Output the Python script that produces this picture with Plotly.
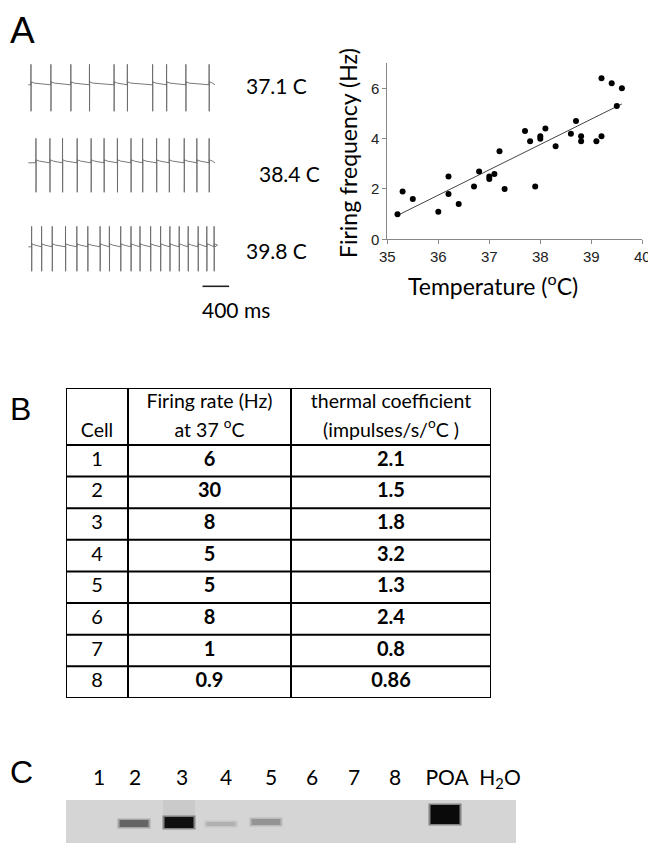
import plotly.graph_objects as go

# ---- panel A: spike trains (spike times in ms)
trace_temps = ["37.1 C", "38.4 C", "39.8 C"]
spikes_371 = [40, 340, 640, 920, 1290, 1490, 1870, 2080, 2370, 2720]
spikes_384 = [115, 325, 515, 735, 945, 1140, 1340, 1545, 1720, 1930, 2120, 2345, 2535, 2720]
spikes_398 = [50, 200, 360, 560, 730, 895, 1080, 1220, 1390, 1545, 1680, 1840, 1990,
              2130, 2270, 2405, 2555, 2685, 2795]
trace_end = 2808
scale_bar_ms = 400

# ---- panel A: firing frequency vs temperature
temp_c = [35.2, 35.3, 35.5, 36.0, 36.2, 36.2, 36.4, 36.7, 36.8, 37.0, 37.0, 37.1, 37.2,
          37.3, 37.7, 37.8, 37.9, 38.0, 38.0, 38.1, 38.3, 38.6, 38.7, 38.8, 38.8, 39.1,
          39.2, 39.2, 39.4, 39.5, 39.6]
freq_hz = [1.0, 1.9, 1.6, 1.1, 2.5, 1.8, 1.4, 2.1, 2.7, 2.5, 2.4, 2.6, 3.5,
           2.0, 4.3, 3.9, 2.1, 4.1, 4.0, 4.4, 3.7, 4.2, 4.7, 4.1, 3.9, 3.9,
           4.1, 6.4, 6.2, 5.3, 6.0]
fit_x = [35.2, 39.6]
fit_y = [0.95, 5.38]

# ---- panel B: table
col_head_1 = ["", "Cell"]
col_head_2 = ["Firing rate (Hz)", "at 37 <sup>o</sup>C"]
col_head_3 = ["thermal coefficient", "(impulses/s/<sup>o</sup>C )"]
cells = ["1", "2", "3", "4", "5", "6", "7", "8"]
firing_rate = ["6", "30", "8", "5", "5", "8", "1", "0.9"]
thermal_coef = ["2.1", "1.5", "1.8", "3.2", "1.3", "2.4", "0.8", "0.86"]

# ---- panel C: gel
lanes = ["1", "2", "3", "4", "5", "6", "7", "8", "POA", "H<sub>2</sub>O"]
lane_pos = [33, 69, 116, 160, 205, 246, 288, 329, 381, 434]
band_x = [68, 113, 155, 200, 379]
band_y = [23.5, 22.5, 24, 22, 14.5]
band_dark = [0.55, 0.97, 0.18, 0.32, 1.0]
band_thick = [7, 11, 4, 6, 19]
band_len = 33

# page has an 8px body margin, so lay out in window pixels and shift
PAD = 8
W, H = 656 - PAD, 849 - PAD
px = lambda v: (v - PAD) / W
py = lambda v: 1 - (v - PAD) / H
LATO = "Lato"
ARIAL = "Liberation Sans"

fig = go.Figure()

# spike traces, one row each
rows = [(spikes_371, 0, 20, 27), (spikes_384, -78, 24, 30), (spikes_398, -162, 20, 25)]
for sp, off, up, down in rows:
    xs, ys = [0], [off - 0.5]
    for i, t in enumerate(sp):
        nxt = sp[i + 1] if i + 1 < len(sp) else trace_end + 40
        xs += [t - 2, t, t + 1, t + 3, t + 50, min(nxt - 10, trace_end)]
        ys += [off - 0.5, off + up, off - down, off + 2.5, off + 1.2, off - 0.5]
    if xs[-1] < trace_end:
        xs.append(trace_end)
        ys.append(off)
    fig.add_trace(go.Scatter(x=xs, y=ys, mode="lines", xaxis="x2", yaxis="y2",
                             line=dict(color="#6a6a6a", width=0.9), showlegend=False,
                             hoverinfo="skip"))

fig.add_trace(go.Scatter(x=[2620, 2620 + scale_bar_ms], y=[-202, -202], mode="lines",
                         xaxis="x2", yaxis="y2", line=dict(color="#222", width=1.6),
                         showlegend=False))

# scatter + trend line
fig.add_trace(go.Scatter(x=fit_x, y=fit_y, mode="lines", line=dict(color="#444", width=1),
                         showlegend=False))
fig.add_trace(go.Scatter(x=temp_c, y=freq_hz, mode="markers",
                         marker=dict(color="black", size=6), showlegend=False))

# table on its own axes: x in column-width units, y in row units
col_edges = [0, 62, 225, 425]
head_h = 1.8
n_rows = len(cells)
y_edges = [0, head_h] + [head_h + i + 1 for i in range(n_rows)]
gx, gy = [], []
for ye in y_edges:
    gx += [0, col_edges[-1], None]
    gy += [ye, ye, None]
for xe in col_edges:
    gx += [xe, xe, None]
    gy += [0, y_edges[-1], None]
fig.add_trace(go.Scatter(x=gx, y=gy, mode="lines", xaxis="x4", yaxis="y4",
                         line=dict(color="black", width=2), showlegend=False))
centers = [(col_edges[i] + col_edges[i + 1]) / 2 for i in range(3)]
head_y = [0.48, 1.38]
for cx, lines in zip(centers, [col_head_1, col_head_2, col_head_3]):
    fig.add_trace(go.Scatter(x=[cx, cx], y=head_y, text=lines, mode="text",
                             xaxis="x4", yaxis="y4", showlegend=False,
                             textfont=dict(family=LATO, size=19.5, color="black")))
row_y = [head_h + i + 0.5 for i in range(n_rows)]
for cx, vals, b in zip(centers, [cells, firing_rate, thermal_coef], [False, True, True]):
    fig.add_trace(go.Scatter(x=[cx] * n_rows, y=row_y,
                             text=["<b>%s</b>" % v if b else v for v in vals], mode="text",
                             xaxis="x4", yaxis="y4", showlegend=False,
                             textfont=dict(family=LATO, size=20, color="black")))

# gel bands
fig.add_trace(go.Scatter(x=[113, 113], y=[0, 17], mode="lines", xaxis="x3", yaxis="y3",
                         line=dict(color="rgba(0,0,0,0.05)", width=32), showlegend=False))
for bx, by, dk, th in zip(band_x, band_y, band_dark, band_thick):
    g = int(214 - dk * 204)
    col = "rgb(%d,%d,%d)" % (g, g, g)
    fig.add_trace(go.Scatter(x=[bx - band_len / 2, bx + band_len / 2], y=[by, by],
                             mode="lines", xaxis="x3", yaxis="y3",
                             line=dict(color=col, width=th + 3), opacity=0.4,
                             showlegend=False))
    fig.add_trace(go.Scatter(x=[bx - band_len / 2 + 2, bx + band_len / 2 - 2], y=[by, by],
                             mode="lines", xaxis="x3", yaxis="y3",
                             line=dict(color=col, width=th), showlegend=False))

fig.update_layout(
    width=W, height=H, margin=dict(l=0, r=0, t=0, b=0, autoexpand=False),
    paper_bgcolor="white", plot_bgcolor="white", showlegend=False,
    xaxis=dict(domain=[px(387.3), px(642.3)], range=[35, 40], dtick=1,
               showline=True, linecolor="#888", linewidth=1, ticks="outside",
               ticklen=4, tickcolor="#888", showgrid=False, zeroline=False,
               tickfont=dict(family=ARIAL, size=15, color="#222"), anchor="y"),
    yaxis=dict(domain=[py(239.3), py(63.2)], range=[0, 7], tickvals=[0, 2, 4, 6],
               showline=True, linecolor="#888", linewidth=1, ticks="outside",
               ticklen=4, tickcolor="#888", showgrid=False, zeroline=False,
               tickfont=dict(family=ARIAL, size=15, color="#222"), anchor="x"),
    xaxis2=dict(domain=[px(20), px(240)], range=[-125, 3184], visible=False, anchor="y2"),
    yaxis2=dict(domain=[py(320), py(50)], range=[-235.7, 34.3], visible=False,
                anchor="x2"),
    xaxis3=dict(domain=[px(66), px(516)], range=[0, 450], side="top", anchor="y3",
                tickvals=lane_pos, ticktext=lanes, ticks="", showline=False,
                showgrid=False, zeroline=False, ticklabelstandoff=10,
                tickfont=dict(family=LATO, size=21, color="black")),
    yaxis3=dict(domain=[py(843), py(800)], range=[43, 0], visible=False, anchor="x3"),
    xaxis4=dict(domain=[px(66), px(491)], range=[0, 425], visible=False, anchor="y4"),
    yaxis4=dict(domain=[py(698), py(388)], range=[y_edges[-1], 0], visible=False,
                anchor="x4"),
    shapes=[dict(type="rect", xref="x3 domain", yref="y3 domain", x0=0, x1=1, y0=0, y1=1,
                 fillcolor="#d5d5d5", line=dict(width=0), layer="below")],
)

ann = []
for lab, xl, yc in zip(trace_temps, [244, 257, 244], [86, 173, 250]):
    ann.append(dict(text=lab, x=px(xl), y=py(yc), xref="paper", yref="paper",
                    xanchor="left", yanchor="middle", showarrow=False,
                    font=dict(family=LATO, size=21, color="black")))
ann.append(dict(text="%d ms" % scale_bar_ms, x=px(200), y=py(309), xref="paper",
                yref="paper", xanchor="left", yanchor="middle", showarrow=False,
                font=dict(family=LATO, size=21, color="black")))
ann.append(dict(text="Firing frequency (Hz)", x=px(348), y=py(153), xref="paper",
                yref="paper", xanchor="center", yanchor="middle", textangle=-90,
                showarrow=False, font=dict(family=LATO, size=23, color="black")))
ann.append(dict(text="Temperature (<sup>o</sup>C)", x=px(493), y=py(284),
                xref="paper", yref="paper", xanchor="center", yanchor="middle",
                showarrow=False, font=dict(family=LATO, size=23, color="black")))
ann.append(dict(text="A", x=0, y=1, xref="paper", yref="paper", xanchor="left",
                yanchor="top", showarrow=False,
                font=dict(family=ARIAL, size=37, color="black")))
for lab, yc in [("B", 409), ("C", 772)]:
    ann.append(dict(text=lab, x=0, y=py(yc), xref="paper", yref="paper",
                    xanchor="left", yanchor="middle", showarrow=False,
                    font=dict(family=ARIAL, size=32, color="black")))
fig.update_layout(annotations=ann)

fig.write_html("out.html")
